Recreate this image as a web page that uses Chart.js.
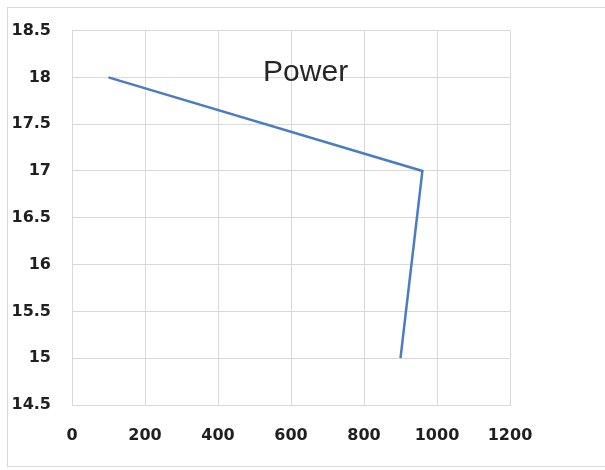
<!DOCTYPE html>
<html>
<head>
<meta charset="utf-8">
<script src="https://cdn.jsdelivr.net/npm/chart.js@4/dist/chart.umd.min.js"></script>
<style>
  html, body { margin: 0; padding: 0; background: #fff; }
  #frame { position: absolute; left: 7px; top: 7px; width: 620px; height: 458px; border: 1px solid #d9d9d9; }
  #power { position: absolute; left: 0; top: 0; }
</style>
</head>
<body>
<div id="frame"></div>
<canvas id="power" width="605" height="470"></canvas>
<script>
  // data
  const powerX = [100, 960, 900];
  const powerY = [18, 17, 15];
  const chartTitle = 'Power';

  const points = powerX.map(function (x, i) { return { x: x, y: powerY[i] }; });
  const tickFont = { family: '"DejaVu Sans", sans-serif', size: 16, weight: 'bold' };

  // title sits inside the plot area, like the original
  const innerTitle = {
    id: 'innerTitle',
    afterDraw: function (chart) {
      const ctx = chart.ctx;
      const x = chart.scales.x.getPixelForValue(640);
      const y = chart.scales.y.getPixelForValue(17.96);
      ctx.save();
      ctx.font = '30px "Liberation Sans", sans-serif';
      ctx.fillStyle = '#262626';
      ctx.textAlign = 'center';
      ctx.textBaseline = 'alphabetic';
      ctx.fillText(chartTitle, x, y);
      ctx.restore();
    }
  };

  new Chart(document.getElementById('power'), {
    type: 'scatter',
    data: {
      datasets: [{
        label: chartTitle,
        data: points,
        showLine: true,
        borderColor: '#4a7cc4',
        borderWidth: 2.5,
        pointRadius: 0,
        fill: false
      }]
    },
    options: {
      responsive: false,
      animation: false,
      layout: { padding: { top: 30, right: 95, left: 0, bottom: 0 } },
      plugins: {
        legend: { display: false },
        tooltip: { enabled: false }
      },
      scales: {
        x: {
          type: 'linear',
          min: 0,
          max: 1200,
          grid: { color: '#d9d9d9', drawTicks: false },
          border: { color: '#d9d9d9' },
          ticks: {
            stepSize: 200,
            padding: 21,
            color: '#1f1f1f',
            font: tickFont,
            callback: function (v) { return String(v); }
          },
          afterFit: function (scale) { scale.height = 65; }
        },
        y: {
          min: 14.5,
          max: 18.5,
          grid: { color: '#d9d9d9', drawTicks: false },
          border: { color: '#d9d9d9' },
          ticks: {
            stepSize: 0.5,
            padding: 21,
            color: '#1f1f1f',
            font: tickFont,
            callback: function (v) { return String(v); }
          },
          afterFit: function (scale) { scale.width = 72; }
        }
      }
    },
    plugins: [innerTitle]
  });
</script>
</body>
</html>
